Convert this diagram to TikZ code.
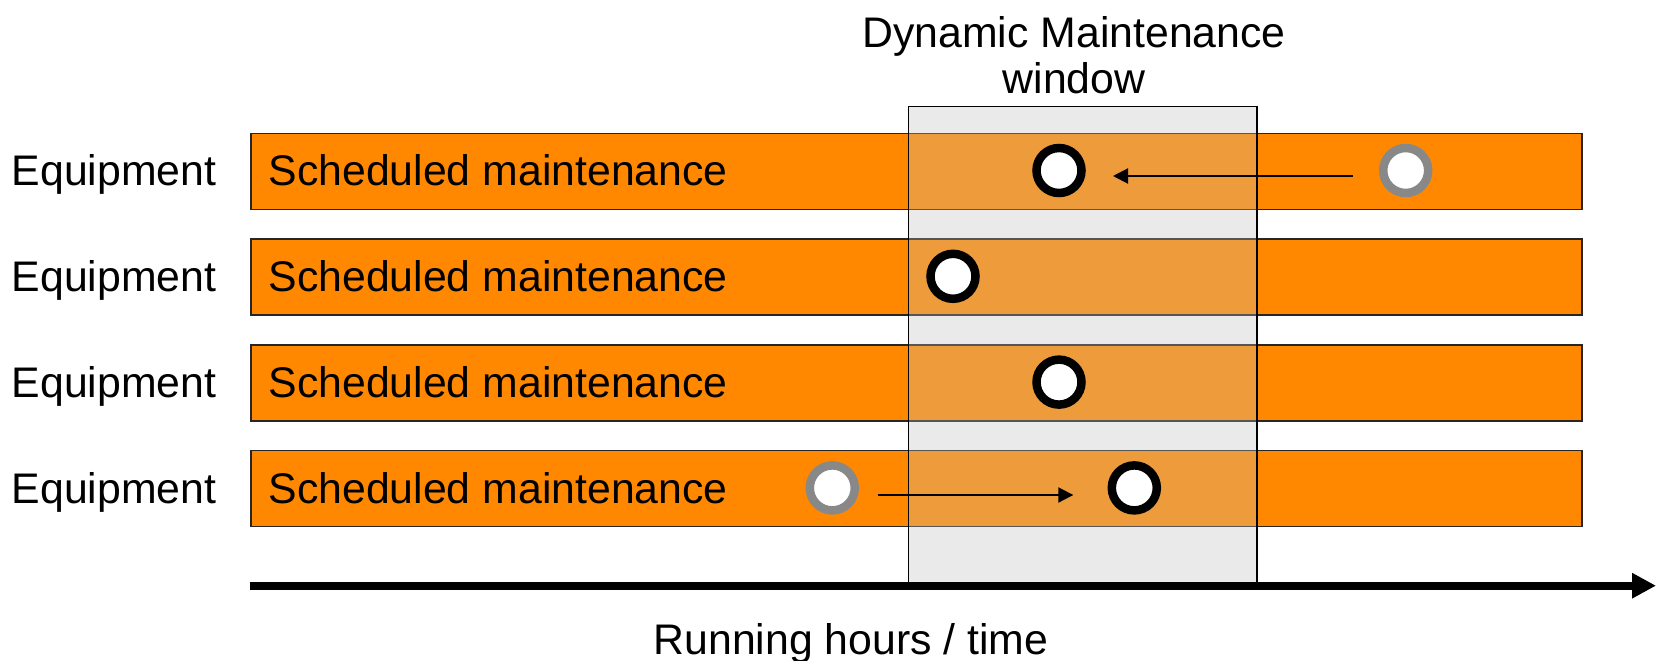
\documentclass[tikz,border=0pt]{standalone}
\usepackage{fontspec}
\setmainfont{Liberation Sans}
\usetikzlibrary{arrows.meta}
\definecolor{barorange}{RGB}{255,136,0}
\definecolor{winback}{RGB}{250,250,250}
\definecolor{wingray}{RGB}{200,200,200}
\definecolor{ringgray}{RGB}{136,136,136}
\begin{document}
\begin{tikzpicture}[x=1pt,y=-1pt,
  lbl/.style={font=\fontsize{42.8}{50}\selectfont, inner sep=0pt, anchor=base west},
  ctr/.style={font=\fontsize{42.8}{50}\selectfont, inner sep=0pt, anchor=base},
  bar/.style={draw=black!85, line width=1.5pt, fill=barorange, minimum width=1331pt, minimum height=76pt, inner sep=0pt, anchor=north west},
  winbox/.style={draw=black, line width=1.5pt, fill=wingray, fill opacity=0.3, minimum width=348.5pt, minimum height=480pt, inner sep=0pt, anchor=north west},
  dot/.style={circle, draw=black, line width=8.5pt, fill=white, minimum size=45pt, inner sep=0pt},
  olddot/.style={dot, draw=ringgray},
  move/.style={line width=2pt, -{Triangle[length=15pt,width=15pt]}},
  axis/.style={line width=7.7pt, -{Triangle[length=24pt,width=24pt]}}]
\useasboundingbox (0,0) rectangle (1657,661);
% window background
\fill[winback] (907.5,105.7) rectangle (1256,585.7);
% bars
\foreach \i/\t in {1/132.5,2/238.3,3/344.1,4/449.9}{
  \node[bar] (bar\i) at (250,\t) {};
}
% window overlay
\node[winbox] (win) at (907.5,105.7) {};
% labels
\foreach \i/\b in {1/185.7,2/291.5,3/397.3,4/503.1}{
  \node[lbl] (eq\i) at (11.6,\b) {Equipment};
  \node[lbl] (sm\i) at (268.3,\b) {Scheduled maintenance};
}
\node[ctr] (t1) at (1074,47.5) {Dynamic Maintenance};
\node[ctr] (t2) at (1074,93) {window};
% circles
\node[dot] (b1) at (1059,170.5) {};
\node[olddot] (g1) at (1405.7,170.5) {};
\node[dot] (b2) at (953,276.3) {};
\node[dot] (b3) at (1059,382.1) {};
\node[olddot] (g4) at (832.3,487.9) {};
\node[dot] (b4) at (1134.3,487.9) {};
% move arrows
\coordinate (m1s) at (1353,176);
\coordinate (m1e) at (1113,176);
\coordinate (m4s) at (877.7,495);
\coordinate (m4e) at (1073.3,495);
\draw[move] (m1s) -- (m1e);
\draw[move] (m4s) -- (m4e);
% time axis
\coordinate (axs) at (249.5,585.7);
\coordinate (axe) at (1656,585.7);
\draw[axis] (axs) -- (axe);
\node[ctr] (rt) at (851,654) {Running hours / time};
\end{tikzpicture}
\end{document}
